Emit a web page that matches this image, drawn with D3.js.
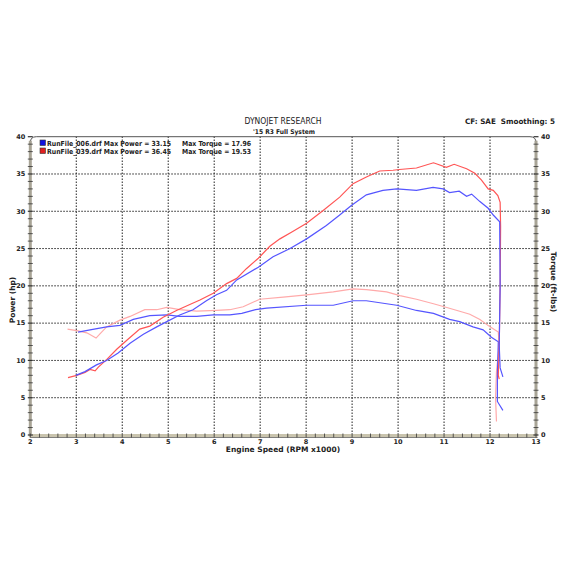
<!DOCTYPE html>
<html>
<head>
<meta charset="utf-8">
<script src="https://cdn.jsdelivr.net/npm/d3@7"></script>
<style>
  body { margin: 0; background: #fff; }
  text { font-family: "DejaVu Sans", Verdana, sans-serif; fill: #222; }
  .tick-lbl { font-size: 6.5px; font-weight: bold; }
</style>
</head>
<body>
<svg id="chart" width="566" height="566"></svg>
<script>
// run 006 (blue) and run 039 (red): [rpm x1000, value]
var power006 = [[2.99,8.0],[3.19,8.5],[3.44,9.4],[3.66,10.0],[3.91,11.0],[4.17,12.3],[4.46,13.5],[4.75,14.5],
  [4.97,15.2],[5.25,16.1],[5.54,16.8],[5.83,18.0],[6.05,18.8],[6.27,19.4],[6.49,20.8],[6.96,22.5],[7.28,23.9],
  [7.65,25.0],[8.01,26.3],[8.44,28.1],[8.73,29.5],[8.99,30.8],[9.31,32.2],[9.67,32.8],[9.97,33.0],[10.4,32.8],
  [10.76,33.2],[10.98,33.0],[11.12,32.5],[11.33,32.7],[11.49,32.0],[11.6,32.3],[11.78,31.3],[11.96,30.4],
  [12.07,29.5],[12.21,28.6],[12.22,20],[12.2,12],[12.22,9],[12.28,7.8]];
var power039 = [[2.82,7.7],[3.01,8.0],[3.19,8.4],[3.30,8.8],[3.41,8.6],[3.48,9.1],[3.66,10.1],[3.88,11.5],
  [4.10,12.7],[4.38,14.2],[4.60,14.6],[4.89,15.8],[5.18,16.7],[5.47,17.5],[5.69,18.1],[5.98,19.0],[6.27,20.3],
  [6.49,21.0],[6.70,22.3],[6.96,23.7],[7.21,25.3],[7.43,26.3],[7.68,27.2],[8.01,28.4],[8.37,30.1],[8.73,31.9],
  [9.02,33.7],[9.31,34.6],[9.60,35.4],[9.89,35.5],[10.03,35.6],[10.4,35.8],[10.77,36.5],[11.05,35.9],
  [11.22,36.3],[11.49,35.7],[11.67,35.1],[11.81,34.2],[11.96,33.0],[12.07,32.8],[12.17,32.1],[12.22,31.2],
  [12.23,28],[12.22,20],[12.2,12],[12.18,8.0],[12.2,7.5]];
var torque006 = [[3.04,13.8],[3.30,14.1],[3.66,14.5],[3.95,14.7],[4.24,15.5],[4.60,16.0],[4.97,16.1],[5.25,15.9],
  [5.62,15.9],[5.98,16.1],[6.34,16.1],[6.6,16.3],[6.9,16.8],[7.14,17.0],[8.01,17.4],[8.59,17.4],[9.02,18.0],
  [9.31,18.0],[9.97,17.4],[10.4,16.7],[10.77,16.3],[11.12,15.5],[11.34,15.2],[11.63,14.5],[11.85,14.1],
  [12.03,13.1],[12.18,12.5],[12.16,8],[12.16,4.5],[12.28,3.3]];
var torque039 = [[2.81,14.2],[3.01,14.0],[3.23,13.7],[3.43,13.0],[3.52,13.6],[3.66,14.5],[3.95,15.4],[4.17,15.9],
  [4.49,16.8],[4.75,16.8],[4.97,17.1],[5.25,16.8],[5.62,16.6],[6.05,16.7],[6.34,16.8],[6.63,17.2],[6.99,18.2],
  [7.5,18.5],[8.01,18.8],[8.59,19.2],[9.02,19.6],[9.31,19.5],[9.75,19.2],[10.04,18.7],[10.4,18.2],[10.77,17.6],
  [11.06,17.1],[11.34,16.6],[11.56,16.2],[11.78,15.5],[12.0,14.5],[12.18,13.8],[12.2,12],[12.14,8.5],
  [12.12,5],[12.14,1.8]];

var xTicks = [2,3,4,5,6,7,8,9,10,11,12,13];
var yTicks = [0,5,10,15,20,25,30,35,40];
var legendRows = [
  {file: "RunFile_006.drf", power: "33.15", torque: "17.96", color: "#1010e0"},
  {file: "RunFile_039.drf", power: "36.45", torque: "19.53", color: "#e02020"}
];

var svg = d3.select("#chart");
var pLeft = 30.3, pRight = 536, pTop = 136.7, pBottom = 435;

var x = d3.scaleLinear().domain([2, 13]).range([pLeft, pRight]);
var y = d3.scaleLinear().domain([0, 40]).range([pBottom, pTop]);

// grid
svg.append("g").selectAll("line").data(xTicks.slice(1, -1)).join("line")
   .attr("x1", d => x(d)).attr("x2", d => x(d)).attr("y1", pBottom).attr("y2", pTop)
   .attr("stroke", "#222").attr("stroke-width", 1).attr("stroke-dasharray", "1.5,1.5");
svg.append("g").selectAll("line").data(yTicks.slice(1, -1)).join("line")
   .attr("y1", d => y(d)).attr("y2", d => y(d)).attr("x1", pLeft).attr("x2", pRight)
   .attr("stroke", "#222").attr("stroke-width", 1).attr("stroke-dasharray", "1.5,1.5");

// top frame with rounded corners
svg.append("path")
   .attr("d", "M" + pLeft + "," + (pTop + 6) + " Q" + pLeft + "," + pTop + " " + (pLeft + 6) + "," + pTop +
              " L" + (pRight - 6) + "," + pTop + " Q" + pRight + "," + pTop + " " + pRight + "," + (pTop + 6))
   .attr("fill", "none").attr("stroke", "#555").attr("stroke-width", 1);

// axes (thick grey bars)
svg.append("rect").attr("x", pLeft - 1.5).attr("y", pTop + 4).attr("width", 3).attr("height", pBottom - pTop - 4)
   .attr("fill", "#a8a496");
svg.append("rect").attr("x", pRight - 1.5).attr("y", pTop + 4).attr("width", 3).attr("height", pBottom - pTop - 4)
   .attr("fill", "#a8a496");
svg.append("rect").attr("x", pLeft - 1.5).attr("y", pBottom - 1).attr("width", pRight - pLeft + 3).attr("height", 3.5)
   .attr("fill", "#c9c4ae");
svg.append("line").attr("x1", pLeft).attr("x2", pRight + 1.5).attr("y1", pBottom + 2.5).attr("y2", pBottom + 2.5)
   .attr("stroke", "#666").attr("stroke-width", 0.8);

// minor ticks
var yMinor = d3.range(0, 40.01, 1);
[pLeft, pRight].forEach(function(ax) {
  svg.append("g").selectAll("line").data(yMinor).join("line")
     .attr("x1", ax - 2.5).attr("x2", ax + 2.5).attr("y1", d => y(d)).attr("y2", d => y(d))
     .attr("stroke", "#333").attr("stroke-width", d => d % 5 == 0 ? 1.2 : 0.8);
});
var xMinor = d3.range(2, 13.01, 0.2);
svg.append("g").selectAll("line").data(xMinor).join("line")
   .attr("x1", d => x(d)).attr("x2", d => x(d)).attr("y1", pBottom - 1.5).attr("y2", pBottom + 2.5)
   .attr("stroke", "#333").attr("stroke-width", 0.8);

// tick labels
svg.append("g").selectAll("text").data(yTicks).join("text").attr("class", "tick-lbl")
   .attr("x", pLeft - 5).attr("y", d => y(d) + 2.3).attr("text-anchor", "end").text(d => d);
svg.append("g").selectAll("text").data(yTicks).join("text").attr("class", "tick-lbl")
   .attr("x", pRight + 5).attr("y", d => y(d) + 2.3).attr("text-anchor", "start").text(d => d);
svg.append("g").selectAll("text").data(xTicks).join("text").attr("class", "tick-lbl")
   .attr("x", d => x(d)).attr("y", pBottom + 8.5).attr("text-anchor", "middle").text(d => d);

// curves
var line = d3.line().x(d => x(d[0])).y(d => y(d[1]));
var series = [
  {data: torque039, color: "#ffaaaa"},
  {data: torque006, color: "#5555ff"},
  {data: power039, color: "#ff5555"},
  {data: power006, color: "#5555ff"}
];
series.forEach(function(s) {
  svg.append("path").datum(s.data).attr("d", line)
     .attr("fill", "none").attr("stroke", s.color).attr("stroke-width", 1.2);
});

// titles
svg.append("text").attr("x", 283).attr("y", 124).attr("text-anchor", "middle")
   .attr("textLength", 77).attr("lengthAdjust", "spacingAndGlyphs")
   .style("font-size", "8px").text("DYNOJET RESEARCH");
svg.append("text").attr("x", 284).attr("y", 134).attr("text-anchor", "middle")
   .attr("textLength", 62).attr("lengthAdjust", "spacingAndGlyphs")
   .style("font-size", "6.5px").style("font-weight", "bold").text("'15 R3 Full System");
svg.append("text").attr("x", 555).attr("y", 124).attr("text-anchor", "end")
   .attr("textLength", 90).attr("lengthAdjust", "spacingAndGlyphs").style("white-space", "pre")
   .style("font-size", "7.5px").style("font-weight", "bold").text("CF: SAE  Smoothing: 5");

// axis titles
svg.append("text").attr("transform", "translate(15,300)rotate(-90)").attr("text-anchor", "middle")
   .style("font-size", "7.5px").style("font-weight", "bold").text("Power (hp)");
svg.append("text").attr("transform", "translate(551,282)rotate(90)").attr("text-anchor", "middle")
   .style("font-size", "7.5px").style("font-weight", "bold").text("Torque (ft-lbs)");
svg.append("text").attr("x", 283).attr("y", 452).attr("text-anchor", "middle")
   .style("font-size", "7.5px").style("font-weight", "bold").text("Engine Speed (RPM x1000)");

// legend
var lg = svg.append("g").selectAll("g").data(legendRows).join("g")
   .attr("transform", (d, i) => "translate(40," + (140 + i * 8) + ")");
lg.append("rect").attr("width", 5.5).attr("height", 5.5).attr("fill", d => d.color)
  .attr("stroke", "#333").attr("stroke-width", 0.6);
lg.append("text").attr("x", 7).attr("y", 5.5).style("font-size", "7px").style("font-weight", "bold")
  .attr("textLength", 124).attr("lengthAdjust", "spacingAndGlyphs")
  .text(d => d.file + " Max Power = " + d.power);
lg.append("text").attr("x", 142).attr("y", 5.5).style("font-size", "7px").style("font-weight", "bold")
  .attr("textLength", 69).attr("lengthAdjust", "spacingAndGlyphs")
  .text(d => "Max Torque = " + d.torque);
</script>
</body>
</html>
